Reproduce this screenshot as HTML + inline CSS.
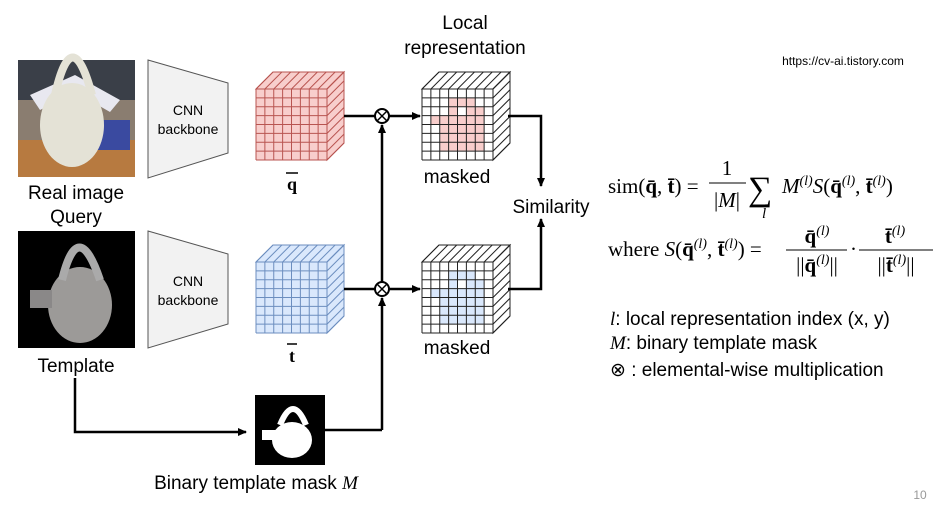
<!DOCTYPE html>
<html><head><meta charset="utf-8"><style>
body{margin:0;background:#fff;width:947px;height:502px;overflow:hidden}
</style></head><body>
<svg id="s" width="947" height="502" xmlns="http://www.w3.org/2000/svg" font-family="Liberation Sans, sans-serif">
<defs>
<marker id="a" markerWidth="10" markerHeight="10" refX="8" refY="5" orient="auto" markerUnits="userSpaceOnUse"><path d="M0,1 L9,5 L0,9 z" fill="#000"/></marker>
</defs>
<!-- images -->
<rect x="18" y="60" width="117" height="117" fill="#8a7d70"/>
<rect x="18" y="60" width="117" height="40" fill="#3a3f48"/>
<path d="M30,95 L75,75 L120,100 L110,112 L75,92 L40,110 Z" fill="#e8e8f0"/>
<rect x="18" y="140" width="117" height="37" fill="#b77a40"/>
<rect x="95" y="120" width="35" height="30" fill="#3a4aa0"/>
<ellipse cx="72" cy="125" rx="32" ry="42" fill="#e4e2d6"/>
<path d="M55,95 Q72,20 92,95" stroke="#e4e2d6" stroke-width="8" fill="none"/>
<rect x="18" y="231" width="117" height="117" fill="#000"/>
<ellipse cx="80" cy="305" rx="32" ry="38" fill="#9c9a98"/>
<path d="M62,280 Q78,215 100,280" stroke="#aaa" stroke-width="8" fill="none"/>
<rect x="30" y="290" width="22" height="18" fill="#8a8888"/>
<text x="76" y="199" font-size="19" text-anchor="middle">Real image</text>
<text x="76" y="223" font-size="19" text-anchor="middle">Query</text>
<text x="76" y="372" font-size="19" text-anchor="middle">Template</text>
<!-- trapezoids -->
<path d="M148,60 L228,83 L228,153 L148,178 Z" fill="#f2f2f2" stroke="#555"/>
<path d="M148,231 L228,254 L228,324 L148,348 Z" fill="#f2f2f2" stroke="#555"/>
<text x="188" y="115" font-size="14" text-anchor="middle">CNN</text>
<text x="188" y="134" font-size="14" text-anchor="middle">backbone</text>
<text x="188" y="286" font-size="14" text-anchor="middle">CNN</text>
<text x="188" y="305" font-size="14" text-anchor="middle">backbone</text>
<g id="cubes"></g>
<text x="292" y="190" font-size="18" text-anchor="middle" font-family="Liberation Serif, serif" font-weight="bold">q</text>
<line x1="286" y1="173" x2="298" y2="173" stroke="#000" stroke-width="1.5"/>
<text x="292" y="362" font-size="18" text-anchor="middle" font-family="Liberation Serif, serif" font-weight="bold">t</text>
<line x1="287" y1="344" x2="297" y2="344" stroke="#000" stroke-width="1.5"/>
<text x="457" y="183" font-size="19" text-anchor="middle">masked</text>
<text x="457" y="354" font-size="19" text-anchor="middle">masked</text>
<text x="465" y="29" font-size="19" text-anchor="middle">Local</text>
<text x="465" y="54" font-size="19" text-anchor="middle">representation</text>
<text x="551" y="213" font-size="19" text-anchor="middle">Similarity</text>
<!-- connectors -->
<g stroke="#000" stroke-width="2.5" fill="none">
<line x1="344" y1="116" x2="375" y2="116"/>
<line x1="389" y1="116" x2="420" y2="116" marker-end="url(#a)"/>
<line x1="344" y1="289" x2="375" y2="289"/>
<line x1="389" y1="289" x2="420" y2="289" marker-end="url(#a)"/>
<line x1="382" y1="430" x2="382" y2="298" marker-end="url(#a)"/>
<line x1="382" y1="282" x2="382" y2="125" marker-end="url(#a)"/>
<polyline points="508,116 541,116 541,186" marker-end="url(#a)"/>
<polyline points="508,289 541,289 541,219" marker-end="url(#a)"/>
<polyline points="75,378 75,432 246,432" marker-end="url(#a)"/>
<polyline points="325,430 382,430"/>
</g>
<g stroke="#000" stroke-width="2" fill="#fff">
<circle cx="382" cy="116" r="7"/><circle cx="382" cy="289" r="7"/>
</g>
<g stroke="#000" stroke-width="1.5">
<path d="M377,111 L387,121 M387,111 L377,121"/><path d="M377,284 L387,294 M387,284 L377,294"/>
</g>
<!-- mask -->
<rect x="255" y="395" width="70" height="70" fill="#000"/>
<ellipse cx="292" cy="440" rx="20" ry="18" fill="#fff"/>
<path d="M280,425 Q293,393 306,425" stroke="#fff" stroke-width="6" fill="none"/>
<rect x="262" y="430" width="14" height="10" fill="#fff"/>
<text x="256" y="489" font-size="19" text-anchor="middle">Binary template mask <tspan font-family="Liberation Serif, serif" font-style="italic">M</tspan></text>
<text x="843" y="65" font-size="12" text-anchor="middle">https://cv-ai.tistory.com</text>
<!-- formulas -->
<g font-family="Liberation Serif, serif" font-size="21">
<text x="608" y="193">sim(<tspan font-weight="bold">q̄</tspan>, <tspan font-weight="bold">t̄</tspan>) =</text>
<text x="727" y="175" text-anchor="middle">1</text>
<line x1="709" y1="183" x2="746" y2="183" stroke="#000" stroke-width="1"/>
<text x="727" y="207" text-anchor="middle">|<tspan font-style="italic">M</tspan>|</text>
<text x="748" y="200" font-size="34">∑</text>
<text x="762" y="218" font-size="15" font-style="italic">l</text>
<text x="782" y="193"><tspan font-style="italic">M</tspan><tspan font-size="14" dy="-8" font-style="italic">(l)</tspan><tspan dy="8" font-style="italic">S</tspan>(<tspan font-weight="bold">q̄</tspan><tspan font-size="14" dy="-8" font-style="italic">(l)</tspan><tspan dy="8">, </tspan><tspan font-weight="bold">t̄</tspan><tspan font-size="14" dy="-8" font-style="italic">(l)</tspan><tspan dy="8">)</tspan></text>
<text x="608" y="256">where <tspan font-style="italic">S</tspan>(<tspan font-weight="bold">q̄</tspan><tspan font-size="14" dy="-8" font-style="italic">(l)</tspan><tspan dy="8">, </tspan><tspan font-weight="bold">t̄</tspan><tspan font-size="14" dy="-8" font-style="italic">(l)</tspan><tspan dy="8">)  =</tspan></text>
<text x="817" y="243" text-anchor="middle"><tspan font-weight="bold">q̄</tspan><tspan font-size="14" dy="-8" font-style="italic">(l)</tspan></text>
<line x1="786" y1="250" x2="847" y2="250" stroke="#000"/>
<text x="817" y="272" text-anchor="middle">||<tspan font-weight="bold">q̄</tspan><tspan font-size="14" dy="-8" font-style="italic">(l)</tspan><tspan dy="8">||</tspan></text>
<text x="850" y="256">·</text>
<text x="895" y="243" text-anchor="middle"><tspan font-weight="bold">t̄</tspan><tspan font-size="14" dy="-8" font-style="italic">(l)</tspan></text>
<line x1="859" y1="250" x2="933" y2="250" stroke="#000"/>
<text x="896" y="272" text-anchor="middle">||<tspan font-weight="bold">t̄</tspan><tspan font-size="14" dy="-8" font-style="italic">(l)</tspan><tspan dy="8">||</tspan></text>
</g>
<text x="610" y="325" font-size="19"><tspan font-family="Liberation Serif, serif" font-style="italic">l</tspan>: local representation index (x, y)</text>
<text x="610" y="349" font-size="19"><tspan font-family="Liberation Serif, serif" font-style="italic">M</tspan>: binary template mask</text>
<text x="610" y="376" font-size="19">⊗ : elemental-wise multiplication</text>
<text x="920" y="499" font-size="12" fill="#999" text-anchor="middle">10</text>
</svg>
<script>
var g=document.getElementById('cubes'),h='';
function cube(x,y,fill,stroke,top,side,mask,mfill){
 var w=71,d=17,n=8,c=w/n;
 h+='<path d="M'+x+','+y+' l'+d+','+(-d)+' h'+w+' l'+(-d)+','+d+' z" fill="'+top+'" stroke="'+stroke+'"/>';
 h+='<path d="M'+(x+w)+','+y+' l'+d+','+(-d)+' v'+w+' l'+(-d)+','+d+' z" fill="'+side+'" stroke="'+stroke+'"/>';
 h+='<rect x="'+x+'" y="'+y+'" width="'+w+'" height="'+w+'" fill="'+fill+'"/>';
 if(mask){for(var r=0;r<n;r++)for(var k=0;k<n;k++)if(mask[r][k]=='1')h+='<rect x="'+(x+k*c)+'" y="'+(y+r*c)+'" width="'+c+'" height="'+c+'" fill="'+mfill+'"/>';}
 for(var i=0;i<=n;i++){
  h+='<line x1="'+(x+i*c)+'" y1="'+y+'" x2="'+(x+i*c)+'" y2="'+(y+w)+'" stroke="'+stroke+'"/>';
  h+='<line x1="'+x+'" y1="'+(y+i*c)+'" x2="'+(x+w)+'" y2="'+(y+i*c)+'" stroke="'+stroke+'"/>';
  h+='<line x1="'+(x+i*c)+'" y1="'+y+'" x2="'+(x+i*c+d)+'" y2="'+(y-d)+'" stroke="'+stroke+'"/>';
  h+='<line x1="'+(x+w)+'" y1="'+(y+i*c)+'" x2="'+(x+w+d)+'" y2="'+(y+i*c-d)+'" stroke="'+stroke+'"/>';
 }
}
var m=['00000000','00011100','00010110','01111110','00111110','00111110','00111110','00000000'];
cube(256,89,'#f8cecc','#b85450','#f8cecc','#f8cecc');
cube(256,262,'#dae8fc','#6c8ebf','#dae8fc','#dae8fc');
cube(422,89,'#fff','#222','#fff','#fff',m,'#f8cecc');
cube(422,262,'#fff','#222','#fff','#fff',m,'#dae8fc');
g.innerHTML=h;
</script>
</body></html>
